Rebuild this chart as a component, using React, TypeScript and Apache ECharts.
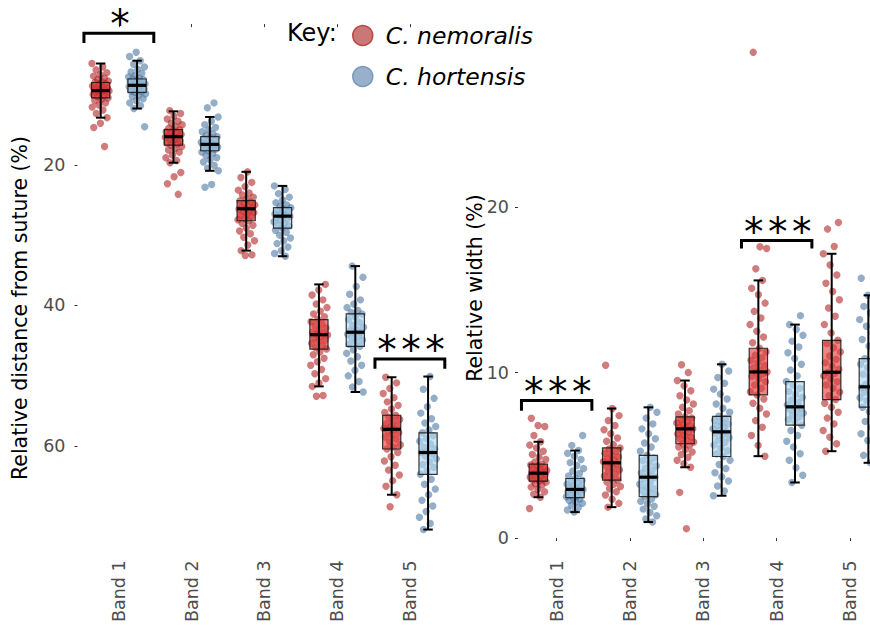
import { useEffect, useRef } from 'react';
import * as echarts from 'echarts';

const bands = ['Band 1', 'Band 2', 'Band 3', 'Band 4', 'Band 5'];
const speciesNames = ['C. nemoralis', 'C. hortensis'];

// Relative distance from suture (%) per shell, one list per band
const distNemoralis: number[][] = [
  [5.6, 6.1, 6.5, 6.9, 7.2, 7.4, 7.7, 7.9, 8.1, 8.2, 8.3, 8.5, 8.6, 8.8, 8.9, 9.0, 9.1, 9.2, 9.3, 9.4, 9.4, 9.5, 9.6, 9.7, 9.8, 9.9, 10.0, 10.2, 10.3, 10.5, 10.7, 10.9, 11.2, 11.5, 11.8, 12.2, 12.7, 13.3, 14.1, 14.7, 17.4],
  [12.3, 12.7, 13.1, 13.5, 13.8, 14.1, 14.3, 14.6, 14.8, 15.0, 15.1, 15.3, 15.4, 15.6, 15.7, 15.8, 15.9, 16.0, 16.0, 16.1, 16.3, 16.4, 16.6, 16.7, 16.9, 17.0, 17.2, 17.4, 17.7, 17.9, 18.2, 18.6, 19.0, 19.4, 19.7, 21.1, 21.7, 22.7, 24.2],
  [21.0, 21.8, 22.5, 23.1, 23.6, 24.0, 24.3, 24.6, 24.9, 25.1, 25.3, 25.5, 25.7, 25.8, 26.0, 26.1, 26.2, 26.3, 26.5, 26.6, 26.8, 27.0, 27.2, 27.4, 27.6, 27.8, 27.95, 28.3, 28.6, 29.0, 29.4, 29.8, 30.3, 30.8, 31.4, 32.2, 32.8, 32.9],
  [37.0, 37.8, 38.5, 39.2, 39.8, 40.3, 40.8, 41.2, 41.6, 42.0, 42.3, 42.6, 42.9, 43.2, 43.5, 43.8, 44.0, 44.1, 44.2, 44.4, 44.6, 44.9, 45.1, 45.4, 45.7, 46.0, 46.2, 46.6, 47.0, 47.5, 48.0, 48.5, 49.1, 49.7, 50.4, 51.0, 51.5, 52.8, 52.9],
  [50.2, 51.0, 51.8, 52.5, 53.1, 53.7, 54.2, 54.7, 55.2, 55.6, 55.9, 56.2, 56.5, 56.8, 57.1, 57.3, 57.5, 57.6, 57.8, 58.1, 58.4, 58.7, 59.0, 59.4, 59.8, 60.1, 60.4, 60.9, 61.5, 62.1, 62.7, 63.4, 64.1, 64.9, 65.7, 66.9, 68.6],
];
const distHortensis: number[][] = [
  [4.0, 4.6, 5.2, 5.7, 6.1, 6.4, 6.8, 7.0, 7.3, 7.5, 7.7, 7.8, 7.9, 8.0, 8.2, 8.3, 8.4, 8.5, 8.6, 8.7, 8.7, 8.8, 8.9, 9.0, 9.1, 9.2, 9.3, 9.5, 9.6, 9.7, 9.9, 10.1, 10.3, 10.6, 10.9, 11.2, 11.6, 12.0, 14.6],
  [11.2, 11.9, 13.2, 13.8, 14.3, 14.7, 15.0, 15.3, 15.6, 15.8, 16.0, 16.1, 16.3, 16.5, 16.6, 16.8, 16.9, 17.0, 17.1, 17.1, 17.2, 17.3, 17.4, 17.5, 17.6, 17.7, 17.8, 18.0, 18.2, 18.4, 18.7, 19.0, 19.3, 19.6, 20.1, 20.5, 20.85, 22.8, 23.2],
  [23.0, 23.5, 24.1, 24.6, 25.0, 25.4, 25.7, 25.9, 26.1, 26.3, 26.5, 26.7, 26.8, 27.0, 27.1, 27.2, 27.3, 27.3, 27.5, 27.7, 27.9, 28.1, 28.3, 28.5, 28.7, 29.0, 29.3, 29.6, 30.0, 30.4, 30.8, 31.2, 31.7, 32.2, 32.6, 33.0],
  [34.4, 36.0, 37.3, 38.4, 39.2, 39.8, 40.3, 40.7, 41.0, 41.2, 41.6, 42.0, 42.4, 42.8, 43.1, 43.4, 43.6, 43.8, 43.9, 44.1, 44.3, 44.6, 44.9, 45.2, 45.5, 45.8, 46.3, 46.8, 47.3, 47.9, 48.5, 49.2, 50.0, 50.8, 51.6, 52.3],
  [50.1, 51.9, 53.2, 54.4, 55.3, 56.1, 56.7, 57.2, 57.7, 58.1, 58.5, 58.9, 59.3, 59.7, 60.1, 60.4, 60.7, 60.9, 61.1, 61.4, 61.8, 62.2, 62.6, 63.0, 63.5, 64.0, 64.7, 65.4, 66.1, 66.9, 67.7, 68.5, 69.3, 70.1, 71.0, 71.85],
];

// Relative width (%) per shell, one list per band
const widthNemoralis: number[][] = [
  [1.79, 2.47, 2.65, 2.8, 2.95, 3.08, 3.2, 3.3, 3.38, 3.44, 3.5, 3.56, 3.62, 3.68, 3.74, 3.8, 3.86, 3.9, 3.92, 3.96, 4.02, 4.08, 4.14, 4.2, 4.27, 4.35, 4.42, 4.47, 4.6, 4.75, 4.9, 5.05, 5.25, 5.45, 5.62, 5.82, 6.2, 6.74, 6.8, 7.24],
  [1.87, 2.1, 2.35, 2.6, 2.8, 2.98, 3.12, 3.25, 3.38, 3.5, 3.62, 3.75, 3.88, 4.0, 4.12, 4.24, 4.36, 4.46, 4.55, 4.62, 4.7, 4.8, 4.9, 5.0, 5.12, 5.25, 5.38, 5.45, 5.65, 5.85, 6.05, 6.3, 6.55, 6.8, 7.1, 7.4, 7.83, 10.44],
  [0.57, 2.76, 4.28, 4.5, 4.7, 4.88, 5.05, 5.2, 5.35, 5.5, 5.6, 5.7, 5.8, 5.9, 6.0, 6.1, 6.2, 6.3, 6.4, 6.5, 6.6, 6.65, 6.72, 6.8, 6.88, 6.96, 7.05, 7.15, 7.25, 7.33, 7.5, 7.7, 7.9, 8.1, 8.35, 8.6, 8.9, 9.2, 9.52, 10.0, 10.47],
  [4.95, 5.6, 6.2, 6.7, 7.1, 7.5, 7.85, 8.15, 8.4, 8.65, 8.85, 9.05, 9.25, 9.45, 9.62, 9.78, 9.92, 10.0, 10.04, 10.15, 10.3, 10.45, 10.6, 10.75, 10.9, 11.05, 11.25, 11.47, 11.8, 12.15, 12.5, 12.9, 13.3, 13.7, 14.2, 14.7, 15.1, 15.57, 16.27, 17.5, 17.6, 29.35],
  [5.25, 5.7, 6.1, 6.5, 6.9, 7.25, 7.6, 7.9, 8.15, 8.37, 8.6, 8.82, 9.05, 9.25, 9.45, 9.62, 9.8, 9.95, 10.02, 10.2, 10.4, 10.6, 10.8, 11.0, 11.25, 11.5, 11.75, 11.95, 12.4, 12.9, 13.4, 13.9, 14.4, 14.9, 15.4, 15.9, 16.5, 17.18, 17.62, 18.67, 19.07],
];
const widthHortensis: number[][] = [
  [1.57, 1.7, 1.85, 1.98, 2.1, 2.2, 2.28, 2.36, 2.44, 2.5, 2.56, 2.62, 2.68, 2.74, 2.8, 2.86, 2.92, 2.94, 2.98, 3.04, 3.1, 3.18, 3.26, 3.34, 3.42, 3.5, 3.6, 3.75, 3.9, 4.05, 4.2, 4.38, 4.56, 4.75, 4.95, 5.12, 5.29, 5.6, 6.2],
  [0.97, 1.15, 1.35, 1.55, 1.75, 1.92, 2.08, 2.22, 2.36, 2.5, 2.62, 2.75, 2.88, 3.0, 3.12, 3.25, 3.4, 3.55, 3.68, 3.8, 3.94, 4.08, 4.22, 4.36, 4.52, 4.68, 4.84, 5.0, 5.25, 5.5, 5.75, 6.0, 6.3, 6.6, 6.9, 7.25, 7.6, 7.9],
  [2.56, 2.85, 3.15, 3.45, 3.7, 3.95, 4.2, 4.45, 4.7, 4.93, 5.1, 5.28, 5.45, 5.62, 5.78, 5.92, 6.06, 6.2, 6.32, 6.42, 6.5, 6.6, 6.7, 6.8, 6.9, 7.0, 7.12, 7.24, 7.36, 7.6, 7.85, 8.1, 8.4, 8.7, 9.0, 9.35, 9.7, 10.1, 10.5],
  [3.36, 3.8, 4.25, 4.7, 5.1, 5.5, 5.85, 6.2, 6.5, 6.82, 7.0, 7.15, 7.3, 7.42, 7.55, 7.66, 7.77, 7.86, 7.93, 8.05, 8.2, 8.35, 8.5, 8.68, 8.86, 9.05, 9.25, 9.46, 9.8, 10.15, 10.5, 10.85, 11.2, 11.55, 11.9, 12.25, 12.6, 12.9, 13.44],
  [4.55, 5.0, 5.45, 5.9, 6.3, 6.7, 7.05, 7.35, 7.65, 7.91, 8.1, 8.3, 8.48, 8.64, 8.8, 8.94, 9.04, 9.1, 9.14, 9.3, 9.5, 9.7, 9.9, 10.1, 10.3, 10.5, 10.68, 10.84, 11.2, 11.6, 12.0, 12.4, 12.8, 13.2, 13.6, 14.0, 14.35, 14.67, 15.7],
];

// Box summaries per band: [lower whisker, Q1, median, Q3, upper whisker]
const distNemoralisBox = [
  [5.6, 8.3, 9.45, 10.5, 13.3],
  [12.4, 15.0, 16.0, 17.2, 19.7],
  [21.0, 25.1, 26.25, 27.95, 32.2],
  [37.0, 42.0, 44.15, 46.2, 51.5],
  [50.2, 55.6, 57.6, 60.4, 66.9],
];
const distHortensisBox = [
  [5.2, 7.8, 8.7, 9.7, 12.0],
  [13.2, 16.0, 17.1, 18.0, 20.85],
  [23.0, 26.1, 27.3, 29.0, 33.0],
  [34.4, 41.2, 43.8, 45.8, 52.3],
  [50.1, 58.1, 60.9, 64.0, 71.85],
];
const widthNemoralisBox = [
  [2.47, 3.44, 3.92, 4.47, 5.82],
  [1.87, 3.5, 4.55, 5.45, 7.83],
  [4.28, 5.7, 6.6, 7.33, 9.52],
  [4.95, 8.65, 10.04, 11.47, 15.57],
  [5.25, 8.37, 10.02, 11.95, 17.18],
];
const widthHortensisBox = [
  [1.57, 2.44, 2.94, 3.6, 5.29],
  [0.97, 2.5, 3.68, 5.0, 7.9],
  [2.56, 4.93, 6.42, 7.36, 10.5],
  [3.36, 6.82, 7.93, 9.46, 12.9],
  [4.55, 7.91, 9.14, 10.84, 14.67],
];

// Significance brackets: band, bar level, tip level, label
const distBracketBands = [0, 4];
const distBracketLevels = [1.3, 47.6];
const distBracketTips = [2.7, 49.0];
const distBracketLabels = ['*', '***'];
const widthBracketBands = [0, 3];
const widthBracketLevels = [8.31, 17.98];
const widthBracketTips = [7.7, 17.5];
const widthBracketLabels = ['***', '***'];

const distTicks = [20, 40, 60];
const widthTicks = [0, 10, 20];

const FONT = 'DejaVu Sans';
const POINT_COLORS = ['rgba(175,30,30,0.58)', 'rgba(70,115,160,0.58)'];
const BOX_COLORS = ['rgba(226,62,62,0.62)', 'rgba(178,216,240,0.62)'];
const SIDE = [-1, 1];

function pointsSeries(values: number[][], sp: number, axis: number) {
  const data: number[][] = [];
  values.forEach((arr, b) => arr.forEach((v, i) => data.push([b, v, i])));
  return {
    type: 'custom',
    name: speciesNames[sp],
    xAxisIndex: axis,
    yAxisIndex: axis,
    z: 2,
    data,
    renderItem: (_p: any, api: any) => {
      const b = api.value(0);
      const i = api.value(2);
      const pt = api.coord([b, api.value(1)]);
      const bw = api.size([1, 0])[0];
      const j = ((i * 0.618034 + b * 0.29 + sp * 0.45) % 1) - 0.5;
      return {
        type: 'circle',
        shape: { cx: pt[0] + SIDE[sp] * 0.25 * bw + j * 2 * 0.12 * bw, cy: pt[1], r: 3.7 },
        style: { fill: POINT_COLORS[sp] },
      };
    },
  };
}

function boxSeries(stats: number[][], sp: number, axis: number) {
  return {
    type: 'custom',
    name: speciesNames[sp],
    xAxisIndex: axis,
    yAxisIndex: axis,
    z: 3,
    data: stats.map((s, b) => [b, ...s]),
    renderItem: (_p: any, api: any) => {
      const b = api.value(0);
      const bw = api.size([1, 0])[0];
      const cx = api.coord([b, api.value(3)])[0] + SIDE[sp] * 0.25 * bw;
      const py = (k: number) => api.coord([b, api.value(k)])[1];
      const lo = py(1), q1 = py(2), md = py(3), q3 = py(4), hi = py(5);
      const hw = 0.125 * bw;
      const cw = 0.065 * bw;
      return {
        type: 'group',
        children: [
          {
            type: 'rect',
            shape: { x: cx - hw, y: Math.min(q1, q3), width: 2 * hw, height: Math.abs(q3 - q1) },
            style: { fill: BOX_COLORS[sp], stroke: 'rgba(20,20,20,0.85)', lineWidth: 1.2 },
          },
          { type: 'line', shape: { x1: cx, y1: lo, x2: cx, y2: hi }, style: { stroke: '#000', lineWidth: 2 } },
          { type: 'line', shape: { x1: cx - cw, y1: lo, x2: cx + cw, y2: lo }, style: { stroke: '#000', lineWidth: 2 } },
          { type: 'line', shape: { x1: cx - cw, y1: hi, x2: cx + cw, y2: hi }, style: { stroke: '#000', lineWidth: 2 } },
          { type: 'line', shape: { x1: cx - hw, y1: md, x2: cx + hw, y2: md }, style: { stroke: '#000', lineWidth: 3.2 } },
        ],
      };
    },
  };
}

function bracketSeries(bandsIdx: number[], levels: number[], tips: number[], labels: string[], axis: number) {
  return {
    type: 'custom',
    xAxisIndex: axis,
    yAxisIndex: axis,
    z: 4,
    data: bandsIdx.map((b, k) => [b, levels[k], tips[k]]),
    renderItem: (p: any, api: any) => {
      const b = api.value(0);
      const bw = api.size([1, 0])[0];
      const c = api.coord([b, api.value(1)]);
      const tipY = api.coord([b, api.value(2)])[1];
      const x0 = c[0] - 0.48 * bw;
      const x1 = c[0] + 0.48 * bw;
      // each asterisk is set on its own, 24px apart
      const chars = labels[p.dataIndex].split('');
      const stars = chars.map((ch, k) => ({
        type: 'text',
        style: {
          text: ch,
          x: c[0] + 1 + (k - (chars.length - 1) / 2) * 24,
          y: c[1] - 9.5,
          align: 'center',
          verticalAlign: 'middle',
          fontSize: 39,
          fontFamily: FONT,
          fill: '#000',
        },
      }));
      return {
        type: 'group',
        children: [
          {
            type: 'polyline',
            shape: { points: [[x0, tipY], [x0, c[1]], [x1, c[1]], [x1, tipY]] },
            style: { stroke: '#000', lineWidth: 3, fill: null, lineJoin: 'miter' },
          },
          ...stars,
        ],
      };
    },
  };
}

const yAxisCommon = {
  type: 'value',
  axisLine: { show: false },
  splitLine: { show: false },
  axisTick: { show: true, length: 3, lineStyle: { color: '#333', width: 1 } },
  axisLabel: { color: '#4d4d4d', fontSize: 17.5, fontFamily: FONT, margin: 12 },
};

const xAxisCommon = {
  type: 'category',
  data: bands,
  axisLine: { show: false },
  splitLine: { show: false },
  axisTick: { show: true, alignWithLabel: true, length: 3, lineStyle: { color: '#333', width: 1 } },
  axisLabel: { color: '#4d4d4d', fontSize: 17.5, fontFamily: FONT, rotate: 90, margin: 10 },
};

const option = {
  animation: false,
  backgroundColor: '#ffffff',
  textStyle: { fontFamily: FONT },
  grid: [
    { left: 82.5, top: 8, width: 363.75, height: 543 },
    { left: 520, top: 8, width: 366.7, height: 543 },
  ],
  xAxis: [
    { ...xAxisCommon, gridIndex: 0 },
    { ...xAxisCommon, gridIndex: 1 },
  ],
  yAxis: [
    {
      ...yAxisCommon,
      gridIndex: 0,
      inverse: true,
      min: -2.29,
      max: 74.81,
      offset: 5,
      axisTick: { ...yAxisCommon.axisTick, customValues: distTicks },
      axisLabel: { ...yAxisCommon.axisLabel, customValues: distTicks },
    },
    {
      ...yAxisCommon,
      gridIndex: 1,
      min: -0.742,
      max: 32.03,
      offset: 2,
      axisTick: { ...yAxisCommon.axisTick, customValues: widthTicks },
      axisLabel: { ...yAxisCommon.axisLabel, customValues: widthTicks, margin: 9 },
    },
  ],
  legend: {
    orient: 'vertical',
    left: 352,
    top: 24,
    padding: 0,
    itemWidth: 20,
    itemHeight: 20,
    itemGap: 18,
    icon: 'circle',
    selectedMode: false,
    textStyle: { fontSize: 23.5, fontStyle: 'italic', fontFamily: FONT, color: '#000', padding: [0, 0, 0, 8] },
    data: [
      { name: speciesNames[0], itemStyle: { color: 'rgba(196,104,104,0.9)', borderColor: 'rgba(180,60,60,0.9)', borderWidth: 1.5 } },
      { name: speciesNames[1], itemStyle: { color: 'rgba(146,172,200,0.95)', borderColor: 'rgba(120,150,182,0.95)', borderWidth: 1.5 } },
    ],
  },
  graphic: [
    { type: 'text', left: 287, top: 21, style: { text: 'Key:', fontSize: 24, fontFamily: FONT, fill: '#000' } },
    {
      type: 'text',
      x: 20,
      y: 308,
      rotation: Math.PI / 2,
      style: { text: 'Relative distance from suture (%)', fontSize: 20.5, fontFamily: FONT, fill: '#000', align: 'center', verticalAlign: 'middle' },
    },
    {
      type: 'text',
      x: 475,
      y: 288,
      rotation: Math.PI / 2,
      style: { text: 'Relative width (%)', fontSize: 20.5, fontFamily: FONT, fill: '#000', align: 'center', verticalAlign: 'middle' },
    },
  ],
  series: [
    pointsSeries(distNemoralis, 0, 0),
    pointsSeries(distHortensis, 1, 0),
    boxSeries(distNemoralisBox, 0, 0),
    boxSeries(distHortensisBox, 1, 0),
    bracketSeries(distBracketBands, distBracketLevels, distBracketTips, distBracketLabels, 0),
    pointsSeries(widthNemoralis, 0, 1),
    pointsSeries(widthHortensis, 1, 1),
    boxSeries(widthNemoralisBox, 0, 1),
    boxSeries(widthHortensisBox, 1, 1),
    bracketSeries(widthBracketBands, widthBracketLevels, widthBracketTips, widthBracketLabels, 1),
  ],
};

export default function App() {
  const ref = useRef<HTMLDivElement>(null);
  useEffect(() => {
    const chart = echarts.init(ref.current as HTMLDivElement, null, { renderer: 'svg' });
    chart.setOption(option as any);
    return () => chart.dispose();
  }, []);
  return (
    <div style={{ position: 'fixed', left: 0, top: 0, width: 870, height: 625, overflow: 'hidden', background: '#fff' }}>
      <div ref={ref} style={{ width: 900, height: 625 }} />
    </div>
  );
}
